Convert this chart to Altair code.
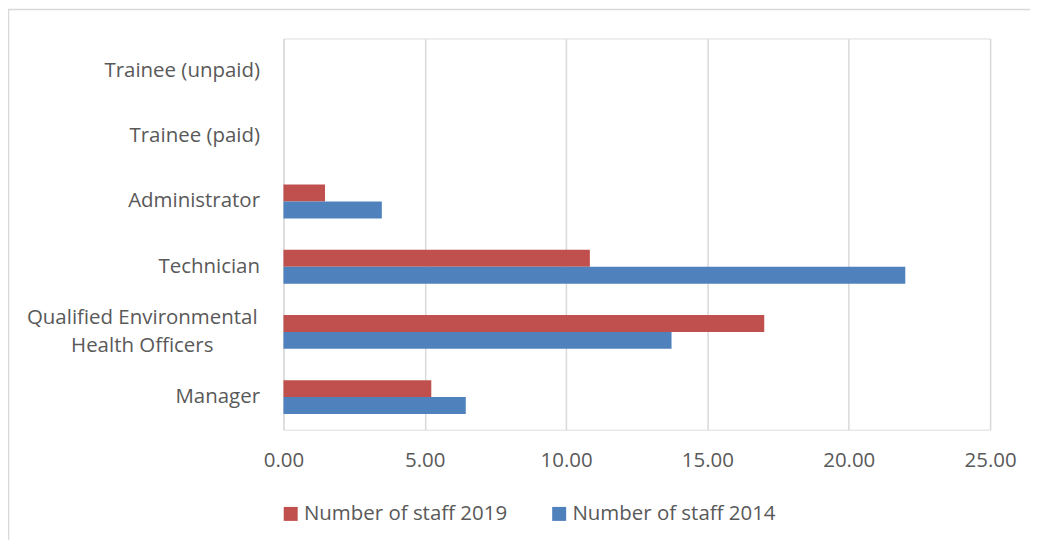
import altair as alt
import pandas as pd

categories = ["Manager", "Qualified Environmental Health Officers", "Technician",
              "Administrator", "Trainee (paid)", "Trainee (unpaid)"]
staff_2019 = [5.23, 17.01, 10.84, 1.47, 0.0, 0.0]
staff_2014 = [6.45, 13.73, 22.0, 3.48, 0.0, 0.0]
series_names = ["Number of staff 2019", "Number of staff 2014"]
series_colors = ["#C0504D", "#4F81BD"]
x_ticks = [0, 5, 10, 15, 20, 25]

rows = []
for c, a, b in zip(categories, staff_2019, staff_2014):
    rows.append({"category": c, "series": series_names[0], "value": a})
    rows.append({"category": c, "series": series_names[1], "value": b})
df = pd.DataFrame(rows)

FONT = "Open Sans"
FS = 20.5
TXT = "#595959"
W, H = 708, 392
qeho = "Qualified Environmental Health Officers"
is_q = f"datum.value == '{qeho}'"

bars = alt.Chart(df).mark_bar(stroke=None).encode(
    x=alt.X("value:Q",
            scale=alt.Scale(domain=[0, 25], nice=False, zero=True),
            axis=alt.Axis(values=x_ticks, format=".2f", title=None, domain=False,
                          ticks=False, grid=True, gridColor="#D9D9D9", gridWidth=1.5,
                          labelFont=FONT, labelFontSize=FS, labelColor=TXT,
                          labelPadding=21, labelFlush=False)),
    y=alt.Y("category:N", sort=list(reversed(categories)),
            scale=alt.Scale(paddingInner=0.48, paddingOuter=0.24),
            axis=alt.Axis(title=None, domain=False, ticks=False, grid=False,
                          labelFont=FONT, labelFontSize=FS, labelColor=TXT,
                          labelLimit=400, labelOverlap=False, labelLineHeight=28,
                          labelAlign={"condition": {"test": is_q, "value": "center"}, "value": "right"},
                          labelPadding={"condition": {"test": is_q, "value": 142}, "value": 24},
                          labelOffset={"condition": {"test": is_q, "value": -14}, "value": 0},
                          labelExpr=f"{is_q} ? ['Qualified Environmental', 'Health Officers'] : datum.value")),
    yOffset=alt.YOffset("series:N", sort=series_names,
                        scale=alt.Scale(paddingInner=0, paddingOuter=0)),
    color=alt.Color("series:N",
                    scale=alt.Scale(domain=series_names, range=series_colors),
                    legend=alt.Legend(title=None, orient="none", direction="horizontal",
                                      legendX=-3, legendY=466, symbolType="square",
                                      symbolSize=196, symbolStrokeWidth=0,
                                      labelFont=FONT, labelFontSize=FS, labelColor=TXT,
                                      labelLimit=400, labelOffset=3, columnPadding=41,
                                      padding=0)),
)

frame = alt.Chart(pd.DataFrame({"k": [0]})).mark_rect(
    fill=None, stroke="#D9D9D9", strokeWidth=1.5
).encode(
    x=alt.value(-275.5), x2=alt.value(800),
    y=alt.value(-29), y2=alt.value(700),
)

chart = alt.layer(frame, bars).properties(
    width=W, height=H,
    autosize=alt.AutoSizeParams(type="none"),
    padding={"left": 276, "top": 30, "right": 40, "bottom": 110},
).configure_view(stroke=None).configure(background="white")

chart.save("out.html", embed_options={"renderer": "svg", "actions": False})
